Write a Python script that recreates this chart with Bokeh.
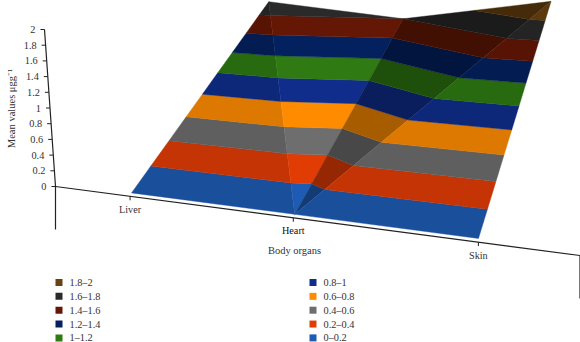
import numpy as np
from bokeh.plotting import figure
from bokeh.core.properties import value
from bokeh.embed import file_html
from bokeh.resources import INLINE

categories = ["Liver", "Heart", "Skin"]
front_values = [0.0, 0.0, 0.0]
back_values = [1.75, 1.6, 2.0]
z_ticks = [0, 0.2, 0.4, 0.6, 0.8, 1, 1.2, 1.4, 1.6, 1.8, 2]
z_tick_labels = ["0", "0.2", "0.4", "0.6", "0.8", "1", "1.2", "1.4", "1.6", "1.8", "2"]
band_labels = ["0–0.2", "0.2–0.4", "0.4–0.6", "0.6–0.8", "0.8–1", "1–1.2", "1.2–1.4", "1.4–1.6", "1.6–1.8", "1.8–2"]
band_colors = ["#1E5BB4", "#E23C05", "#6E6E6E", "#FF8C00", "#102D8C", "#2F7A12", "#04215F", "#651705", "#2A2A2A", "#6A4210"]

# Camera of the 3D surface: homography from (category, depth, value) to the page
CAM = [131.033, 146.52, 308.448, -56.8448, 192.412, 9.36476, -55.7736, -77.2139, -0.0564046, 0.481915, -0.122552]

def project(i, d, z):
    a = CAM
    w = 1 + a[8]*i + a[9]*d + a[10]*z
    return (a[0]+a[1]*i+a[2]*d+a[3]*z)/w, (a[4]+a[5]*i+a[6]*d+a[7]*z)/w

nodes = {("F", k): (float(k), 0.0, front_values[k]) for k in range(3)}
nodes.update({("B", k): (float(k), 1.0, back_values[k]) for k in range(3)})
triangles = [
    ([("F",0),("F",1),("B",0)], 0.87),
    ([("B",0),("F",1),("B",1)], 1.0),
    ([("B",1),("F",1),("B",2)], 0.66),
    ([("F",1),("F",2),("B",2)], 0.87),
]

def clip(poly, level, keep_above):
    out = []
    n = len(poly)
    for k in range(n):
        p, q = poly[k], poly[(k+1) % n]
        pin = (p[2] >= level) if keep_above else (p[2] <= level)
        qin = (q[2] >= level) if keep_above else (q[2] <= level)
        if pin:
            out.append(p)
        if pin != qin:
            t = (level - p[2]) / (q[2] - p[2])
            out.append(tuple(p[m] + t*(q[m]-p[m]) for m in range(3)))
    return out

def shade(col, f):
    r, g, b = int(col[1:3],16), int(col[3:5],16), int(col[5:7],16)
    return "#%02x%02x%02x" % (int(r*f), int(g*f), int(b*f))

xs, ys, cs = [], [], []
for tri, f in triangles:
    base = [nodes[n] for n in tri]
    for b, col in enumerate(band_colors):
        poly = clip(clip(base, z_ticks[b], True), z_ticks[b+1], False)
        if len(poly) < 3:
            continue
        pts = [project(*v) for v in poly]
        xs.append([q[0] for q in pts]); ys.append([q[1] for q in pts]); cs.append(shade(col, f))

p = figure(width=580, height=342, output_backend="svg", toolbar_location=None,
           x_range=(0, 580), y_range=(342, 0), min_border=0, margin=(0, 0, 0, 0))
p.axis.visible = False
p.grid.visible = False
p.outline_line_color = None
p.patches(xs, ys, fill_color=cs, line_color=cs, line_width=0.4)

SERIF = value("Liberation Serif")
AX = "#222222"

# value axis
wall_x = lambda z: 55 - 5.5*z
wall_y = lambda z: 186 - 78.5*z
p.line([wall_x(2), wall_x(0), wall_x(0)], [wall_y(2), wall_y(0), 229], line_color=AX, line_width=1.2)
p.segment([wall_x(z)-4 for z in z_ticks], [wall_y(z) for z in z_ticks], [wall_x(z) for z in z_ticks], [wall_y(z) for z in z_ticks], line_color=AX, line_width=1)
p.text([wall_x(z)-9 for z in z_ticks], [wall_y(z) for z in z_ticks], text=z_tick_labels, text_font=SERIF, text_font_size="10.3px", text_align="right", text_baseline="middle", text_color="#333333")
p.text([11], [108], text=["Mean values μgg⁻¹"], angle=np.pi/2, text_font=SERIF, text_font_size="10.5px", text_align="center", text_baseline="middle", text_color="#333333")

# category axis
def base_pos(i):
    t = (i + 0.5)/3; k = 0.828
    s = t*k/(1 - t + t*k)
    return 55 + 525*s, 186 + 69*s
bx = [base_pos(-0.5)[0], base_pos(2.5)[0]]; by = [base_pos(-0.5)[1], base_pos(2.5)[1]]
p.line([bx[0], bx[1]-0.5, bx[1]-0.5], by + [298], line_color=AX, line_width=1.2)
tx = [base_pos(i)[0] for i in range(3)]; ty = [base_pos(i)[1] for i in range(3)]
p.segment(tx, ty, tx, [v+4 for v in ty], line_color=AX, line_width=1)
p.text(tx, [v+13 for v in ty], text=categories, text_font=SERIF, text_font_size="10.2px", text_align="center", text_baseline="middle", text_color=["#333333", "#111111", "#333333"])
p.text([294], [250], text=["Body organs"], text_font=SERIF, text_font_size="10.5px", text_align="center", text_baseline="middle", text_color="#333333")

# legend
order = list(range(9, -1, -1))
lx = [58.5 if k < 5 else 312.5 for k in range(10)]
ly = [282 + 13.85*(k % 5) for k in range(10)]
p.rect(lx, ly, width=7, height=7, fill_color=[band_colors[b] for b in order], line_color=None)
p.text([x+10.5 for x in lx], ly, text=[band_labels[b] for b in order], text_font=SERIF, text_font_size="10.3px", text_baseline="middle", text_color="#333333")

open("out.html", "w").write(file_html(p, INLINE))
